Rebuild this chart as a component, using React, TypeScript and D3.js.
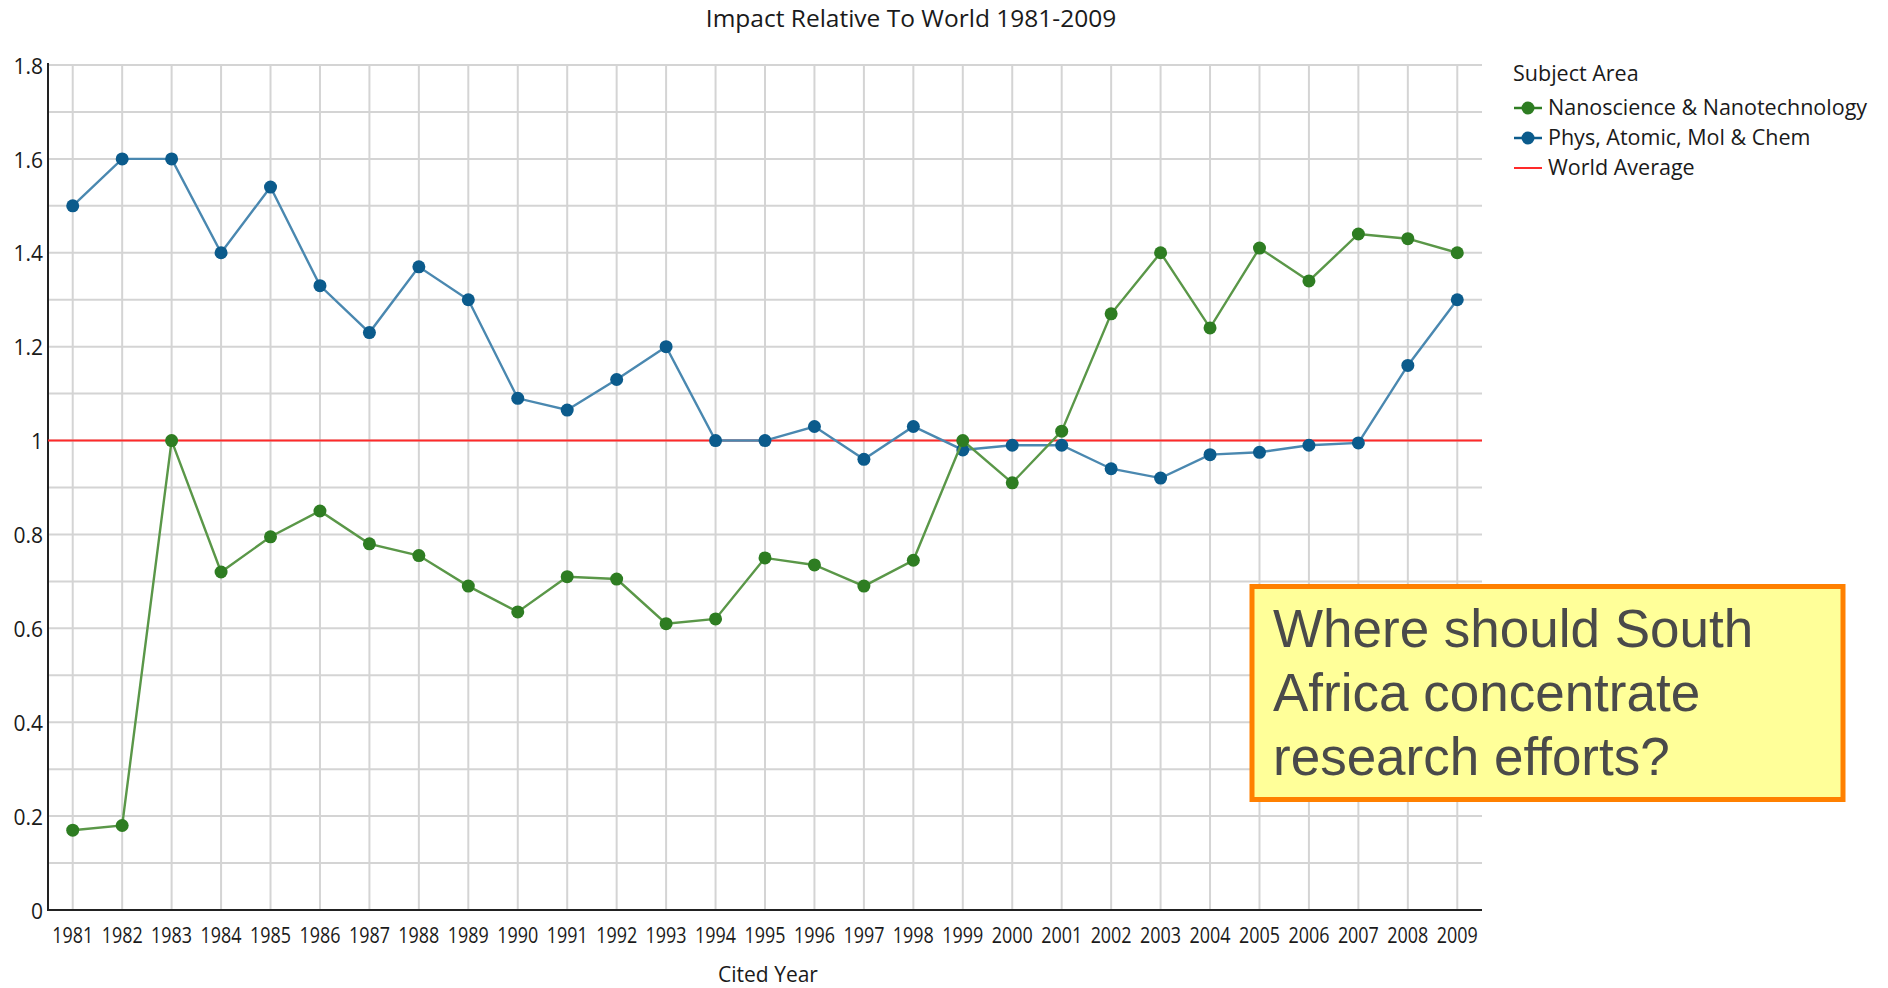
import React from "react";
import * as d3 from "d3";

const years = [1981,1982,1983,1984,1985,1986,1987,1988,1989,1990,1991,1992,1993,1994,1995,1996,1997,1998,1999,2000,2001,2002,2003,2004,2005,2006,2007,2008,2009];
const nano = [0.17,0.18,1.0,0.72,0.795,0.85,0.78,0.755,0.69,0.635,0.71,0.705,0.61,0.62,0.75,0.735,0.69,0.745,1.0,0.91,1.02,1.27,1.40,1.24,1.41,1.34,1.44,1.43,1.40];
const phys = [1.50,1.60,1.60,1.40,1.54,1.33,1.23,1.37,1.30,1.09,1.065,1.13,1.20,1.00,1.00,1.03,0.96,1.03,0.98,0.99,0.99,0.94,0.92,0.97,0.975,0.99,0.995,1.16,1.30];
const worldAvg = 1.0;
const yTicks = [0,0.2,0.4,0.6,0.8,1,1.2,1.4,1.6,1.8];
const yGrid = [0.1,0.2,0.3,0.4,0.5,0.6,0.7,0.8,0.9,1.0,1.1,1.2,1.3,1.4,1.5,1.6,1.7,1.8];
const legendItems = ["Nanoscience & Nanotechnology","Phys, Atomic, Mol & Chem","World Average"];
const noteLines = ["Where should South","Africa concentrate","research efforts?"];

const W = 1888, H = 988;
const L = 48, R = 1482, T = 65, B = 910;
const GREEN_M = "#2e7d22", GREEN_L = "#5a9748";
const BLUE_M = "#0b5b8c", BLUE_L = "#4a88b0";
const RED = "#ff2a2a";
const FONT = "'Open Sans', 'Noto Sans', sans-serif";

export default function App() {
  const x = d3.scalePoint<number>().domain(years).range([L, R]).padding(0.5);
  const y = d3.scaleLinear().domain([0, 1.8]).range([B, T]);
  const line = d3.line<number>().x((_, i) => x(years[i])!).y((v) => y(v));

  return (
    <svg width={W} height={H} style={{ position: "absolute", left: 0, top: 0, background: "#fff" }} fontFamily={FONT}>
      <text x={911} y={20} textAnchor="middle" dominantBaseline="middle" fontSize={24.5} fill="#1a1a1a">Impact Relative To World 1981-2009</text>
      {/* grid */}
      {yGrid.map((g) => (
        <line key={"h" + g} x1={L} x2={R} y1={y(g)} y2={y(g)} stroke="#d4d4d4" strokeWidth={2} />
      ))}
      {years.map((yr) => (
        <line key={"v" + yr} x1={x(yr)} x2={x(yr)} y1={T} y2={B} stroke="#d4d4d4" strokeWidth={2} />
      ))}
      {/* axes */}
      <line x1={L} x2={L} y1={T - 2} y2={B + 1} stroke="#222" strokeWidth={2} />
      <line x1={L - 1} x2={R} y1={B} y2={B} stroke="#222" strokeWidth={2} />
      {yTicks.map((t) => (
        <text key={"yt" + t} x={43} y={y(t) + 3} textAnchor="end" dominantBaseline="middle" fontSize={21} fill="#1a1a1a">{d3.format("~g")(t)}</text>
      ))}
      {years.map((yr) => (
        <text key={"xt" + yr} x={x(yr)} y={937} textAnchor="middle" dominantBaseline="middle" fontSize={22} fill="#1a1a1a" textLength={41} lengthAdjust="spacingAndGlyphs">{yr}</text>
      ))}
      <text x={768} y={976} textAnchor="middle" dominantBaseline="middle" fontSize={21} fill="#1a1a1a">Cited Year</text>
      {/* world average */}
      <line x1={L} x2={R} y1={y(worldAvg)} y2={y(worldAvg)} stroke={RED} strokeWidth={2} />
      {/* series */}
      <path d={line(phys)!} fill="none" stroke={BLUE_L} strokeWidth={2.4} />
      {phys.map((v, i) => (
        <circle key={"p" + i} cx={x(years[i])} cy={y(v)} r={6.5} fill={BLUE_M} />
      ))}
      <path d={line(nano)!} fill="none" stroke={GREEN_L} strokeWidth={2.4} />
      {nano.map((v, i) => (
        <circle key={"n" + i} cx={x(years[i])} cy={y(v)} r={6.5} fill={GREEN_M} />
      ))}
      {/* legend */}
      <text x={1513} y={75} dominantBaseline="middle" fontSize={21.5} fill="#1a1a1a">Subject Area</text>
      {legendItems.map((name, i) => {
        const cy = 108 + i * 30;
        const col = i === 0 ? GREEN_M : i === 1 ? BLUE_M : RED;
        return (
          <g key={name}>
            <line x1={1514} x2={1542} y1={cy} y2={cy} stroke={i === 2 ? RED : col} strokeWidth={i === 2 ? 2 : 2.5} />
            {i < 2 && <circle cx={1528} cy={cy} r={6.5} fill={col} />}
            <text x={1548} y={cy + 1} dominantBaseline="middle" fontSize={21.5} fill="#1a1a1a">{name}</text>
          </g>
        );
      })}
      {/* annotation */}
      <rect x={1252} y={586.5} width={591} height={213} fill="#ffff99" stroke="#ff8000" strokeWidth={5} />
      {noteLines.map((t, i) => (
        <text key={t} x={1273} y={647 + i * 64} fontSize={53} fill="#4a4a4a" fontFamily="'Liberation Sans', Arial, sans-serif">{t}</text>
      ))}
    </svg>
  );
}
